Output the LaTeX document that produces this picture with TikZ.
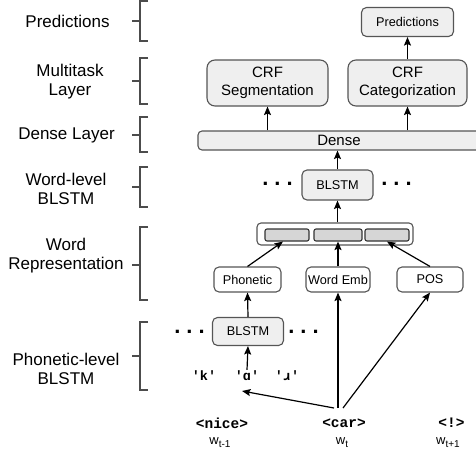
\documentclass[tikz,border=0pt]{standalone}
\usepackage{fontspec}
\setmainfont{Liberation Sans}
\setmonofont{Liberation Mono}
\usetikzlibrary{arrows.meta, positioning, calc}
\definecolor{BoxGray}{RGB}{239,239,239}
\definecolor{CellGray}{RGB}{214,214,214}
\definecolor{EdgeGray}{RGB}{85,85,85}
\newcommand{\wsub}[1]{w\raisebox{-3pt}{\fontsize{10}{10}\selectfont #1}}

\begin{document}
\begin{tikzpicture}[x=1pt, y=-1pt,
        layername/.style={align=center, font=\fontsize{17}{19}\selectfont},
        bigbox/.style={draw=EdgeGray, line width=1.1pt, fill=BoxGray, rounded corners=8pt, align=center, inner sep=0pt, font=\fontsize{15}{18}\selectfont},
        smallbox/.style={draw=EdgeGray, line width=1.1pt, fill=white, rounded corners=5pt, align=center, inner sep=0pt, minimum height=25pt, font=\fontsize{12.7}{15}\selectfont},
        cell/.style={draw=black!80, line width=1.1pt, fill=CellGray, rounded corners=2pt, inner sep=0pt, minimum height=12pt},
        dots/.style={inner sep=0pt, font=\fontsize{22}{22}\selectfont\bfseries},
        phone/.style={inner sep=1pt, font=\fontsize{13.5}{15}\selectfont\ttfamily\bfseries},
        token/.style={inner sep=1pt, font=\fontsize{14.5}{16}\selectfont\ttfamily\bfseries},
        wname/.style={inner sep=1pt, font=\fontsize{13}{15}\selectfont},
        bracket/.style={draw=black!70, line width=1.2pt},
        arrow/.style={line width=1.2pt, -{Stealth[length=8.5pt, width=7pt, inset=1.5pt]}}
    ]
        \useasboundingbox (0,0) rectangle (476,456);

        % layer names on the left
        \node[layername] (lpred) at (67.5,21) {Predictions};
        \node[layername] (lmulti) at (70,81.5) {Multitask\\Layer};
        \node[layername] (ldense) at (66.5,135) {Dense Layer};
        \node[layername] (lword) at (66,188.5) {Word-level\\BLSTM};
        \node[layername] (lrep) at (66,255.5) {Word\\Representation};
        \node[layername] (lphon) at (66,369) {Phonetic-level\\BLSTM};

        \foreach \top/\bot/\mid in {1/41/21, 58/104/81, 117/152/135, 167/207/187, 227/300/265, 322/390/356}
            \draw[bracket] (148,\top) -- (140,\top) -- (140,\bot) -- (148,\bot) (140,\mid) -- (132,\mid);

        % output part
        \node[bigbox, minimum width=92pt, minimum height=29pt, rounded corners=5pt, font=\fontsize{12.7}{15}\selectfont] (pred) at (407.5,22) {Predictions};
        \node[bigbox, minimum width=121pt, minimum height=46pt] (crfseg) at (267.5,83) {CRF\\Segmentation};
        \node[bigbox, minimum width=119pt, minimum height=46pt] (crfcat) at (407.5,83) {CRF\\Categorization};
        \node[bigbox, minimum width=282pt, minimum height=19pt, rounded corners=4pt] (dense) at (339,140.5) {Dense};

        % word level
        \node[smallbox, fill=BoxGray, minimum width=71pt, minimum height=30pt] (wblstm) at (337.5,185) {BLSTM};
        \node[dots] (wdotsl) at (277.5,184) {.\hspace{6pt}.\hspace{6pt}.};
        \node[dots] (wdotsr) at (396.5,184) {.\hspace{6pt}.\hspace{6pt}.};

        \node[smallbox, minimum width=156pt, minimum height=22pt, rounded corners=4pt] (wrep) at (335,234) {};
        \node[cell, minimum width=44pt] (cphon) at (287,235) {};
        \node[cell, minimum width=48pt] (cemb) at (338,235) {};
        \node[cell, minimum width=44pt] (cpos) at (387,235) {};

        \node[smallbox, minimum width=67pt] (phon) at (247.5,279.5) {Phonetic};
        \node[smallbox, minimum width=64pt] (wemb) at (338,279.5) {Word Emb};
        \node[smallbox, minimum width=66pt] (pos) at (430,279.5) {POS};

        % phonetic level
        \node[smallbox, fill=BoxGray, minimum width=71pt, minimum height=28pt] (pblstm) at (248,331.5) {BLSTM};
        \node[dots] (pdotsl) at (189.5,332) {.\hspace{6pt}.\hspace{6pt}.};
        \node[dots] (pdotsr) at (303.5,332) {.\hspace{6pt}.\hspace{6pt}.};

        \node[phone] (pk) at (204,376) {'k'};
        \node[phone] (pa) at (247,376) {'ɑ'};
        \node[phone] (pr) at (287,376) {'ɹ'};

        % input words
        \node[token] (nice) at (222,423) {<nice>};
        \node[token] (car) at (344,423) {<car>};
        \node[token] (excl) at (451.5,423) {<!>};
        \node[wname] (wprev) at (220,443) {\wsub{t-1}};
        \node[wname] (wcur) at (342,443) {\wsub{t}};
        \node[wname] (wnext) at (448,443) {\wsub{t+1}};

        \coordinate (carl) at (334,408);
        \coordinate (carm) at (338,408);
        \coordinate (carr) at (343,408);
        \coordinate (pain) at (242,391);

        \draw[arrow] (crfcat.north) -- (pred.south);
        \draw[arrow] (dense.north -| crfseg) -- (crfseg.south);
        \draw[arrow] (dense.north -| crfcat) -- (crfcat.south);
        \draw[arrow] (wblstm.north) -- (wblstm.north |- dense.south);
        \draw[arrow] (wrep.north -| wblstm) -- (wblstm.south);
        \draw[arrow] (phon.north) -- ($(cphon.south)+(-4,0)$);
        \draw[arrow] (wemb.north) -- (cemb.south);
        \draw[arrow] (pos.north) -- (cpos.south);
        \draw[arrow] (pblstm.north) -- (phon.south);
        \draw[arrow] (pa.north) -- (pblstm.south);
        \draw[arrow] (carl) -- (pain);
        \draw[arrow] (carm) -- (wemb.south -| carm);
        \draw[arrow] (carr) -- (pos.south);
    \end{tikzpicture}
\end{document}
